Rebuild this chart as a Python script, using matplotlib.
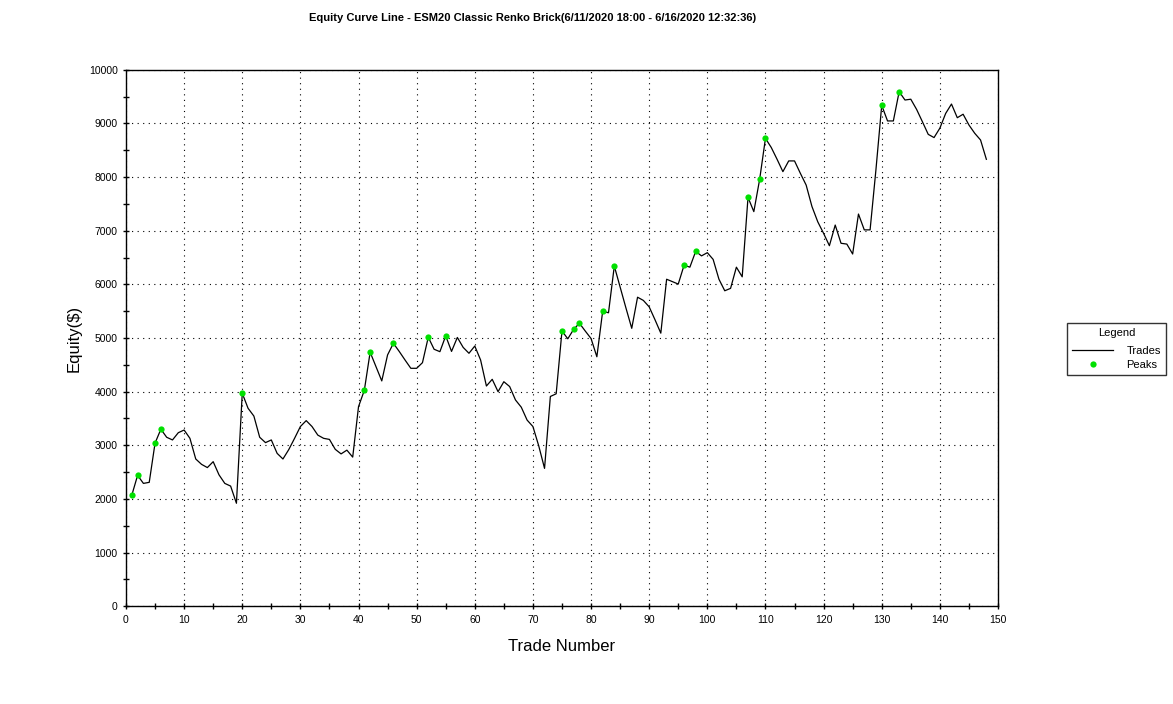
import matplotlib
matplotlib.use("Agg")
import matplotlib.pyplot as plt
from matplotlib.ticker import MultipleLocator

plt.rcParams['font.family'] = ['Liberation Sans', 'DejaVu Sans']

# equity after each trade (trade 1..148)
equity = [
    2070, 2440, 2290, 2310, 3040, 3300, 3150, 3100, 3235, 3285,
    3130, 2745, 2645, 2585, 2695, 2450, 2290, 2240, 1920, 3970,
    3690, 3545, 3150, 3050, 3100, 2850, 2745, 2920, 3130, 3350,
    3460, 3350, 3190, 3130, 3110, 2925, 2840, 2910, 2780, 3720,
    4025, 4735, 4470, 4200, 4685, 4900, 4750, 4590, 4435, 4435,
    4540, 5015, 4790, 4745, 5040, 4750, 5010, 4825, 4715, 4850,
    4590, 4105, 4230, 4000, 4185, 4095, 3845, 3710, 3470, 3350,
    2990, 2570, 3910, 3960, 5130, 4985, 5160, 5275, 5130, 4990,
    4650, 5500, 5470, 6340, 5950, 5560, 5180, 5760, 5700, 5580,
    5340, 5090, 6095, 6050, 6005, 6355, 6320, 6615, 6530, 6590,
    6465, 6095, 5880, 5925, 6320, 6140, 7620, 7355, 7955, 8720,
    8550, 8330, 8100, 8300, 8300, 8070, 7850, 7450, 7165, 6950,
    6720, 7105, 6765, 6750, 6565, 7310, 7015, 7015, 8130, 9335,
    9045, 9045, 9590, 9435, 9450, 9260, 9030, 8795, 8735, 8910,
    9185, 9360, 9105, 9170, 8970, 8815, 8690, 8330,
]
trades = list(range(1, len(equity) + 1))

# trade numbers marked as new equity peaks
peak_trades = [1, 2, 5, 6, 20, 41, 42, 46, 52, 55, 75, 77, 78, 82, 84,
               96, 98, 107, 109, 110, 130, 133]
peak_values = [equity[t - 1] for t in peak_trades]

fig = plt.figure(figsize=(11.73, 7.04), dpi=100)
ax = fig.add_axes([0.1074, 0.1388, 0.7434, 0.7622])

ax.plot(trades, equity, color='black', linewidth=0.9, label='Trades')
ax.plot(peak_trades, peak_values, linestyle='none', marker='o',
        markersize=4.5, color='#00e000', markeredgewidth=0, label='Peaks')

ax.set_xlim(0, 150)
ax.set_ylim(0, 10000)
ax.xaxis.set_major_locator(MultipleLocator(10))
ax.xaxis.set_minor_locator(MultipleLocator(5))
ax.yaxis.set_major_locator(MultipleLocator(1000))
ax.yaxis.set_minor_locator(MultipleLocator(500))
ax.tick_params(which='both', direction='inout', length=5, width=1,
               labelsize=7.5, colors='black')
ax.grid(which='major', color='black', linestyle=(0, (1, 4)), linewidth=0.8)
for s in ax.spines.values():
    s.set_linewidth(1)
    s.set_color('black')

ax.set_xlabel('Trade Number', fontsize=12, labelpad=10.5)
ax.set_ylabel('Equity($)', fontsize=12, labelpad=5)

fig.text(533 / 1173, 1 - 18 / 704,
         'Equity Curve Line - ESM20 Classic Renko Brick(6/11/2020 18:00 - 6/16/2020 12:32:36)',
         ha='center', va='center', fontsize=8, fontweight='bold')

leg = fig.legend(loc='upper left', bbox_to_anchor=(1067 / 1173, 1 - 323 / 704),
                 title='Legend', fontsize=8, title_fontsize=8, frameon=True,
                 fancybox=False, edgecolor='black', handlelength=3.7,
                 borderaxespad=0, borderpad=0.45, labelspacing=0.3,
                 handletextpad=1.2)
leg.get_frame().set_linewidth(1)
leg._legend_box.sep = 6

fig.savefig('out.png', dpi=100)
